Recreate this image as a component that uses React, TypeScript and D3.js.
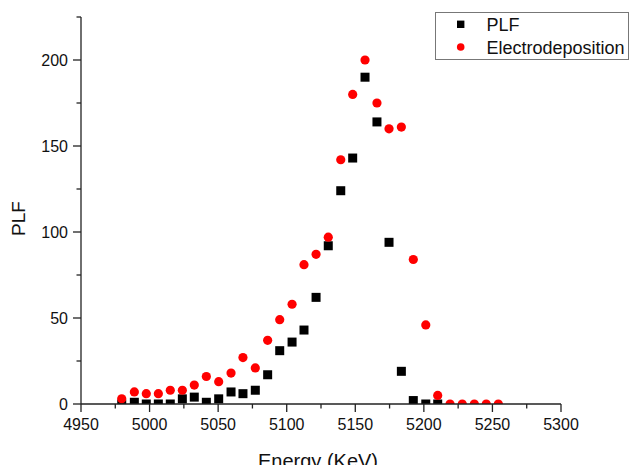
import React from "react";
import * as d3 from "d3";

const energy = [4979.7, 4988.9, 4997.6, 5006.4, 5015.1, 5023.9, 5032.6, 5041.4, 5050.4, 5059.4, 5068.1, 5077.1, 5086.1, 5094.9, 5103.9, 5112.6, 5121.4, 5130.3, 5139.4, 5148.1, 5157.1, 5165.8, 5174.6, 5183.6, 5192.3, 5201.4, 5210.1, 5219.1, 5228.0, 5236.8, 5245.5, 5254.3];
const plfValues = [0, 1, 0, 0, 0, 3, 4, 1, 3, 7, 6, 8, 17, 31, 36, 43, 62, 92, 124, 143, 190, 164, 94, 19, 2, 0, 0];
const electroValues = [3, 7, 6, 6, 8, 8, 11, 16, 13, 18, 27, 21, 37, 49, 58, 81, 87, 97, 142, 180, 200, 175, 160, 161, 84, 46, 5, 0, 0, 0, 0, 0];
const xTicks = [4950, 5000, 5050, 5100, 5150, 5200, 5250, 5300];
const xMinorTicks = [4975, 5025, 5075, 5125, 5175, 5225, 5275];
const yTicks = [0, 50, 100, 150, 200];
const yMinorTicks = [25, 75, 125, 175, 225];
const seriesNames = ["PLF", "Electrodeposition"];

const W = 630;
const H = 465;
const left = 81;
const right = 561;
const top = 17;
const bottom = 404;
const FONT = "'Liberation Sans', Arial, sans-serif";

export default function App() {
  const x = d3.scaleLinear().domain([4950, 5300]).range([left, right]);
  const y = d3.scaleLinear().domain([0, 225]).range([bottom, top]);
  const sq = 9;
  const r = 4.6;
  const axisColor = "#222";

  return (
    <div style={{ position: "absolute", left: 0, top: 0 }}>
      <svg width={W} height={H} style={{ display: "block", background: "#fff" }}>
        <defs>
          <clipPath id="plotClip">
            <rect x={left} y={top - 6} width={right - left + 6} height={bottom - top + 6} />
          </clipPath>
        </defs>
        <g clipPath="url(#plotClip)">
          {plfValues.map((v, i) => (
            <rect key={"b" + i} x={x(energy[i]) - sq / 2} y={y(v) - sq / 2} width={sq} height={sq} fill="#000" />
          ))}
          {electroValues.map((v, i) => (
            <circle key={"r" + i} cx={x(energy[i])} cy={y(v)} r={r} fill="#ff0000" />
          ))}
        </g>
        {/* axes */}
        <line x1={left} x2={left} y1={top} y2={bottom} stroke={axisColor} strokeWidth={1.3} />
        <line x1={left} x2={right} y1={bottom} y2={bottom} stroke={axisColor} strokeWidth={1.3} />
        {yTicks.map((t) => (
          <g key={"yt" + t}>
            <line x1={left - 8} x2={left} y1={y(t)} y2={y(t)} stroke={axisColor} strokeWidth={1.3} />
            <text x={left - 13} y={y(t)} dy="0.36em" textAnchor="end" fontFamily={FONT} fontSize={16} fill="#111">{t}</text>
          </g>
        ))}
        {yMinorTicks.map((t) => (
          <line key={"ym" + t} x1={left - 4.5} x2={left} y1={y(t)} y2={y(t)} stroke={axisColor} strokeWidth={1.3} />
        ))}
        {xTicks.map((t) => (
          <g key={"xt" + t}>
            <line x1={x(t)} x2={x(t)} y1={bottom} y2={bottom + 8} stroke={axisColor} strokeWidth={1.3} />
            <text x={x(t)} y={430} textAnchor="middle" fontFamily={FONT} fontSize={16} fill="#111">{t}</text>
          </g>
        ))}
        {xMinorTicks.map((t) => (
          <line key={"xm" + t} x1={x(t)} x2={x(t)} y1={bottom} y2={bottom + 4.5} stroke={axisColor} strokeWidth={1.3} />
        ))}
        <text x={(left + right) / 2 - 3} y={468} textAnchor="middle" fontFamily={FONT} fontSize={20} fill="#111">Energy (KeV)</text>
        <text transform={`translate(25, ${(top + bottom) / 2 + 8}) rotate(-90)`} textAnchor="middle" fontFamily={FONT} fontSize={19} fill="#111">PLF</text>
        {/* legend */}
        <rect x={435.5} y={12.5} width={193} height={47} fill="#fff" stroke="#777" strokeWidth={1} />
        <rect x={460.7 - 3.7} y={24.3 - 3.7} width={7.4} height={7.4} fill="#000" />
        <circle cx={460.7} cy={47} r={3.8} fill="#ff0000" />
        <text x={486.5} y={30.5} fontFamily={FONT} fontSize={18} fill="#111">{seriesNames[0]}</text>
        <text x={486.5} y={53.5} fontFamily={FONT} fontSize={18} fill="#111">{seriesNames[1]}</text>
      </svg>
    </div>
  );
}
